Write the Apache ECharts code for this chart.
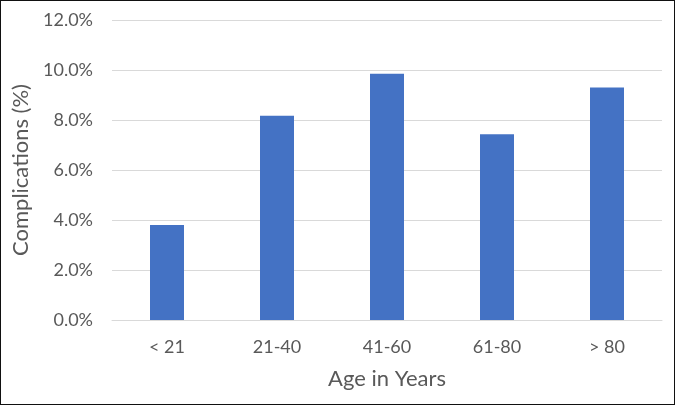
<!DOCTYPE html>
<html><head><meta charset="utf-8">
<script src="https://cdn.jsdelivr.net/npm/echarts@6/dist/echarts.min.js"></script>
<style>
html,body{margin:0;padding:0;background:#fff;}
#c{width:675px;height:405px;border:1px solid #111;box-sizing:border-box;}
</style></head>
<body><div id="c"></div>
<script>
var categories = ['< 21', '21-40', '41-60', '61-80', '> 80'];
var values = [3.8, 8.17, 9.85, 7.43, 9.3];
var yTicks = [0, 2, 4, 6, 8, 10, 12];
var chart = echarts.init(document.getElementById('c'));
chart.setOption({
  animation: false,
  textStyle: {fontFamily: 'Lato, "Open Sans", sans-serif'},
  grid: {left: 111, right: 12, top: 19, bottom: 84, containLabel: false, outerBoundsMode: 'none'},
  xAxis: {
    type: 'category', data: categories,
    name: 'Age in Years', nameLocation: 'middle', nameGap: 48,
    nameTextStyle: {fontSize: 22, color: '#595959'},
    axisLine: {lineStyle: {color: '#d9d9d9', width: 1}},
    axisTick: {show: false},
    axisLabel: {fontSize: 18, color: '#595959', margin: 18}
  },
  yAxis: {
    type: 'value', min: yTicks[0], max: yTicks[yTicks.length - 1], interval: 2,
    name: 'Complications (%)', nameLocation: 'middle', nameGap: 77,
    nameTextStyle: {fontSize: 22, color: '#595959'},
    axisLine: {show: false}, axisTick: {show: false},
    splitLine: {lineStyle: {color: '#d9d9d9', width: 1}},
    axisLabel: {fontSize: 18, color: '#595959', margin: 19,
      formatter: function(v){ return v.toFixed(1) + '%'; }}
  },
  series: [{
    type: 'bar', data: values, barWidth: 34,
    itemStyle: {color: '#4472C4'}
  }]
});
</script></body></html>
